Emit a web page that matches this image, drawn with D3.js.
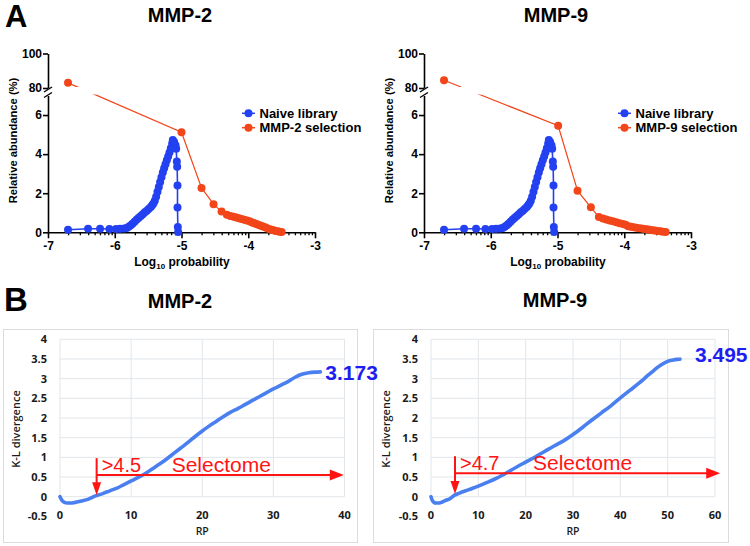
<!DOCTYPE html>
<html><head><meta charset="utf-8">
<script src="https://cdn.jsdelivr.net/npm/d3@7"></script>
<style>body{margin:0;background:#fff} svg{display:block}</style>
</head><body>
<svg id="c" width="750" height="546"></svg>
<script>
// ---------- Panel A data ----------
const naiveLog = [-6.70,-6.40,-6.22,-6.08,-5.98,-5.92,-5.86,-5.82,-5.79,-5.76,-5.73,-5.70,-5.67,-5.64,-5.61,-5.58,-5.55,-5.52,-5.49,-5.46,-5.44,-5.42,-5.40,-5.38,-5.36,-5.34,-5.32,-5.30,-5.28,-5.26,-5.24,-5.22,-5.20,-5.18,-5.16,-5.14,-5.13,-5.11,-5.09,-5.08,-5.07,-5.065,-5.06,-5.06,-5.055,-5.05];
const naiveAb  = [0.13,0.18,0.18,0.17,0.17,0.18,0.19,0.22,0.28,0.36,0.45,0.55,0.65,0.74,0.84,0.93,1.02,1.10,1.20,1.30,1.38,1.48,1.62,1.82,2.08,2.32,2.58,2.82,3.06,3.28,3.48,3.69,3.88,4.08,4.30,4.55,4.72,4.62,4.45,4.28,3.62,3.35,2.40,1.27,0.27,0.02];

const mmp2SelLog = [-6.70,-5.00,-4.70,-4.52,-4.40,-4.32,-4.27,-4.22,-4.18,-4.14,-4.10,-4.06,-4.02,-3.98,-3.95,-3.92,-3.89,-3.86,-3.83,-3.80,-3.77,-3.74,-3.71,-3.68,-3.65,-3.62,-3.59,-3.56,-3.53,-3.50];
const mmp2SelAb  = [83.0,5.12,2.27,1.44,1.06,0.90,0.84,0.80,0.76,0.72,0.68,0.64,0.60,0.56,0.52,0.48,0.44,0.40,0.36,0.32,0.28,0.24,0.20,0.16,0.13,0.10,0.07,0.05,0.03,0.01];

const mmp9SelLog = [-6.70,-4.99,-4.70,-4.50,-4.38,-4.32,-4.27,-4.22,-4.17,-4.12,-4.07,-4.02,-3.98,-3.94,-3.90,-3.86,-3.82,-3.78,-3.74,-3.70,-3.66,-3.62,-3.58,-3.54,-3.50,-3.46,-3.42,-3.38];
const mmp9SelAb  = [84.5,5.45,2.13,1.28,0.78,0.70,0.65,0.60,0.56,0.51,0.46,0.42,0.38,0.31,0.28,0.26,0.23,0.21,0.19,0.17,0.15,0.13,0.11,0.09,0.07,0.05,0.03,0.01];

const xTicksA = [-7,-6,-5,-4,-3];
const yTicksLow = [0,2,4,6];
const yTicksHigh = [80,100];

// ---------- Panel B data ----------
const rp2 = [0,0.3,0.6,1,1.5,2,3,4,5,6,7,8,9,10,11,12,13,14,15,16,17,18,19,20,21,22,23,24,25,26,27,28,29,30,31,32,33,34,35,36,36.6];
const kl2 = [0,-0.10,-0.14,-0.16,-0.16,-0.15,-0.11,-0.06,0.02,0.08,0.15,0.22,0.31,0.40,0.49,0.59,0.71,0.83,0.96,1.10,1.24,1.38,1.53,1.67,1.80,1.92,2.04,2.15,2.24,2.34,2.44,2.54,2.64,2.74,2.83,2.92,3.03,3.11,3.15,3.167,3.173];
const rp9 = [0,0.3,0.6,1,1.5,2,3,4,5,6,8,10,12,14,16,18,20,22,24,26,28,30,32,34,36,38,40,42,44,46,47,48,49,50,51,52,52.6];
const kl9 = [0,-0.10,-0.14,-0.16,-0.16,-0.15,-0.10,-0.05,0.04,0.09,0.18,0.27,0.37,0.48,0.61,0.75,0.88,1.01,1.15,1.29,1.42,1.58,1.76,1.95,2.13,2.31,2.51,2.70,2.89,3.10,3.20,3.30,3.38,3.44,3.47,3.49,3.495];
const yTicksB = [-0.5,0,0.5,1,1.5,2,2.5,3,3.5,4];
const xTicksB2 = [0,10,20,30,40];
const xTicksB9 = [0,10,20,30,40,50,60];

const svg = d3.select('#c');
const ARIAL = "'Liberation Sans', Arial, sans-serif";
const OPEN = "'Open Sans', 'Liberation Sans', sans-serif";
const BLUE = '#2341f0', ORANGE = '#f2451a';

// Panel letters
svg.append('text').attr('x',5).attr('y',27).attr('font-family',ARIAL).attr('font-weight','bold').attr('font-size',31).text('A');
svg.append('text').attr('x',4).attr('y',311).attr('font-family',ARIAL).attr('font-weight','bold').attr('font-size',33).text('B');

function drawA(off, title, selLog, selAb, selLabel) {
  const g = svg.append('g');
  const x = d3.scaleLinear([-7,-3],[48+off,315+off]);
  const yLo = d3.scaleLinear([0,7],[232.3,95.5]);
  const yHi = d3.scaleLinear([80,100],[88,53.5]);
  const yOf = v => v >= 80 ? yHi(v) : yLo(v);
  const fmt = d => String(d);

  g.append('text').attr('x',180+off).attr('y',21.7).attr('text-anchor','middle')
    .attr('font-family',ARIAL).attr('font-weight','bold').attr('font-size',20).text(title);

  const styleAx = sel => {
    sel.selectAll('path,line').attr('stroke','#000').attr('stroke-width',1.6);
    sel.selectAll('text').attr('font-family',ARIAL).attr('font-weight','bold').attr('font-size',12).attr('fill','#000');
  };
  const minor = [];
  for (let d = -7; d < -3; d++) for (let k = 2; k <= 9; k++) minor.push(d + Math.log10(k));
  g.append('g').attr('transform',`translate(0,${yLo(0)})`)
    .call(d3.axisBottom(x).tickValues(minor).tickSize(3).tickFormat('').tickSizeOuter(0))
    .call(s => { s.select('.domain').remove(); s.selectAll('line').attr('stroke','#000').attr('stroke-width',1.3); });
  g.append('g').attr('transform',`translate(0,${yLo(0)})`)
    .call(d3.axisBottom(x).tickValues(xTicksA).tickFormat(fmt).tickSize(6).tickPadding(3).tickSizeOuter(0))
    .call(styleAx);
  g.append('g').attr('transform',`translate(${48+off},0)`)
    .call(d3.axisLeft(yLo).tickValues(yTicksLow).tickFormat(fmt).tickSize(5).tickPadding(1).tickSizeOuter(0))
    .call(styleAx);
  g.append('g').attr('transform',`translate(${48+off},0)`)
    .call(d3.axisLeft(yHi).tickValues(yTicksHigh).tickFormat(fmt).tickSize(5).tickPadding(1).tickSizeOuter(0))
    .call(styleAx);
  [89.5, 95].forEach(yy => {
    g.append('line').attr('x1',44+off).attr('y1',yy+2.5).attr('x2',52+off).attr('y2',yy-2.5)
      .attr('stroke','#000').attr('stroke-width',1.4);
  });

  const xl = g.append('text').attr('x',182+off).attr('y',266).attr('text-anchor','middle')
    .attr('font-family',ARIAL).attr('font-weight','bold').attr('font-size',12);
  xl.append('tspan').text('Log');
  xl.append('tspan').attr('font-size',8).attr('dy',3).text('10');
  xl.append('tspan').attr('dy',-3).text(' probability');
  g.append('text').attr('transform',`translate(${16.5+off},140.5) rotate(-90)`).attr('text-anchor','middle')
    .attr('font-family',ARIAL).attr('font-weight','bold').attr('font-size',11.2).text('Relative abundance (%)');

  const line = d3.line().x(d => x(d[0])).y(d => yOf(d[1]));
  const nData = naiveLog.map((v,i) => [v, naiveAb[i]]);
  g.append('path').datum(nData).attr('d',line).attr('fill','none').attr('stroke',BLUE).attr('stroke-width',1.6);
  g.selectAll('.nd').data(nData).enter().append('circle').attr('class','nd')
    .attr('cx',d => x(d[0])).attr('cy',d => yOf(d[1])).attr('r',4).attr('fill',BLUE);

  const cid = 'clipA' + off;
  const cp = svg.append('clipPath').attr('id',cid);
  cp.append('rect').attr('x',off).attr('y',0).attr('width',375).attr('height',87);
  cp.append('rect').attr('x',off).attr('y',94.5).attr('width',375).attr('height',200);
  const sData = selLog.map((v,i) => [v, selAb[i]]);
  g.append('path').datum(sData).attr('d',line).attr('fill','none').attr('stroke',ORANGE)
    .attr('stroke-width',1.2).attr('clip-path',`url(#${cid})`);
  g.selectAll('.sd').data(sData).enter().append('circle').attr('class','sd')
    .attr('cx',d => x(d[0])).attr('cy',d => yOf(d[1])).attr('r',4).attr('fill',ORANGE);

  [[BLUE,'Naive library',113.3],[ORANGE,selLabel,127.7]].forEach(([c,t,yy]) => {
    g.append('line').attr('x1',242+off).attr('x2',255+off).attr('y1',yy).attr('y2',yy).attr('stroke',c).attr('stroke-width',1.5);
    g.append('circle').attr('cx',248.5+off).attr('cy',yy).attr('r',4).attr('fill',c);
    g.append('text').attr('x',259.5+off).attr('y',yy+4.6).attr('font-family',ARIAL).attr('font-weight','bold')
      .attr('font-size',13).text(t);
  });
}

drawA(0,'MMP-2',mmp2SelLog,mmp2SelAb,'MMP-2 selection');
drawA(376,'MMP-9',mmp9SelLog,mmp9SelAb,'MMP-9 selection');

// ---------- Panel B ----------
const boxes = [[3,357],[373,728]];
boxes.forEach(([a,b]) => svg.append('rect').attr('x',a+0.5).attr('y',329.5).attr('width',b-a).attr('height',213)
  .attr('fill','#fff').attr('stroke','#dcdcdc').attr('stroke-width',1));

function drawB(cfg) {
  const g = svg.append('g');
  const x = d3.scaleLinear(cfg.xdom, cfg.xr);
  const y = d3.scaleLinear([-0.5,4],[516.4,339.3]);
  g.append('text').attr('x',cfg.tx).attr('y',cfg.ty).attr('text-anchor','middle')
    .attr('font-family',ARIAL).attr('font-weight','bold').attr('font-size',20).text(cfg.title);
  yTicksB.filter(v => v >= 0).forEach(v => g.append('line').attr('x1',x(cfg.xdom[0])).attr('x2',x(cfg.xdom[1]))
    .attr('y1',y(v)).attr('y2',y(v)).attr('stroke','#e1e6ea').attr('stroke-width',1));
  cfg.xticks.forEach(v => g.append('line').attr('x1',x(v)).attr('x2',x(v)).attr('y1',y(0)).attr('y2',y(4))
    .attr('stroke','#e1e6ea').attr('stroke-width',1));
  g.selectAll('.yt').data(yTicksB).enter().append('text').attr('x',x(cfg.xdom[0]) - 13).attr('y',d => y(d) + 4)
    .attr('text-anchor','end').attr('font-family',OPEN).attr('font-weight','bold').attr('font-size',11)
    .attr('fill','#1a1a1a').text(d => String(d));
  g.selectAll('.xt').data(cfg.xticks).enter().append('text').attr('x',d => x(d)).attr('y',y(-0.5) + 2.5)
    .attr('text-anchor','middle').attr('font-family',OPEN).attr('font-weight','bold').attr('font-size',11)
    .attr('fill','#1a1a1a').text(d => String(d));
  g.append('text').attr('x',x(cfg.rpMid)).attr('y',534.5).attr('text-anchor','middle').attr('font-family',OPEN)
    .attr('font-weight','600').attr('font-size',10.5).attr('fill','#1a1a1a').text('RP');
  g.append('text').attr('transform',`translate(${cfg.kx},429) rotate(-90)`).attr('text-anchor','middle')
    .attr('font-family',OPEN).attr('font-weight','600').attr('font-size',11).attr('fill','#1a1a1a').text('K-L divergence');
  const data = cfg.rp.map((v,i) => [v, cfg.kl[i]]);
  g.append('path').datum(data).attr('d',d3.line().x(d => x(d[0])).y(d => y(d[1])).curve(d3.curveMonotoneX))
    .attr('fill','none').attr('stroke','#4a7ff0').attr('stroke-width',3.6).attr('stroke-linecap','round');
  const last = data[data.length-1];
  g.append('text').attr('x',x(last[0]) + cfg.ldx).attr('y',y(last[1]) + cfg.ldy).attr('font-family',ARIAL)
    .attr('font-weight','bold').attr('font-size',21).attr('fill','#1e1ef2').text(cfg.label);
  const RED = '#ff1414';
  const ax = x(cfg.arrowRP);
  const yTop = y(cfg.vTop), yTip = y(cfg.vTip);
  g.append('line').attr('x1',ax).attr('x2',ax).attr('y1',yTop).attr('y2',yTip - 10).attr('stroke',RED).attr('stroke-width',2);
  g.append('path').attr('d',`M${ax-4.5},${yTip-13}L${ax+4.5},${yTip-13}L${ax},${yTip}Z`).attr('fill',RED);
  const hy = y(cfg.hY), hx2 = x(cfg.hEnd);
  g.append('line').attr('x1',ax).attr('x2',hx2 - 10).attr('y1',hy).attr('y2',hy).attr('stroke',RED).attr('stroke-width',2);
  g.append('path').attr('d',`M${hx2-14},${hy-5.5}L${hx2-14},${hy+5.5}L${hx2},${hy}Z`).attr('fill',RED);
  g.append('text').attr('x',ax + 5).attr('y',hy - 3.5).attr('font-family',ARIAL).attr('font-size',20).attr('fill',RED).text(cfg.thr);
  g.append('text').attr('x',ax + cfg.selDx).attr('y',hy - 3.5).attr('font-family',ARIAL).attr('font-size',21).attr('fill',RED).text('Selectome');
}

drawB({xdom:[0,40], xr:[60,344.5], xticks:xTicksB2, title:'MMP-2', tx:180, ty:308, rp:rp2, kl:kl2,
  label:'3.173', ldx:5, ldy:8.5, arrowRP:5.15, vTop:0.98, vTip:0.04, hY:0.55, hEnd:39.9,
  thr:'>4.5', selDx:75, rpMid:20, kx:20});
drawB({xdom:[0,60], xr:[431,715], xticks:xTicksB9, title:'MMP-9', tx:555, ty:307, rp:rp9, kl:kl9,
  label:'3.495', ldx:15, ldy:2.5, arrowRP:5.07, vTop:1.03, vTip:0.07, hY:0.595, hEnd:61.1,
  thr:'>4.7', selDx:78, rpMid:30, kx:390});
</script></body></html>
